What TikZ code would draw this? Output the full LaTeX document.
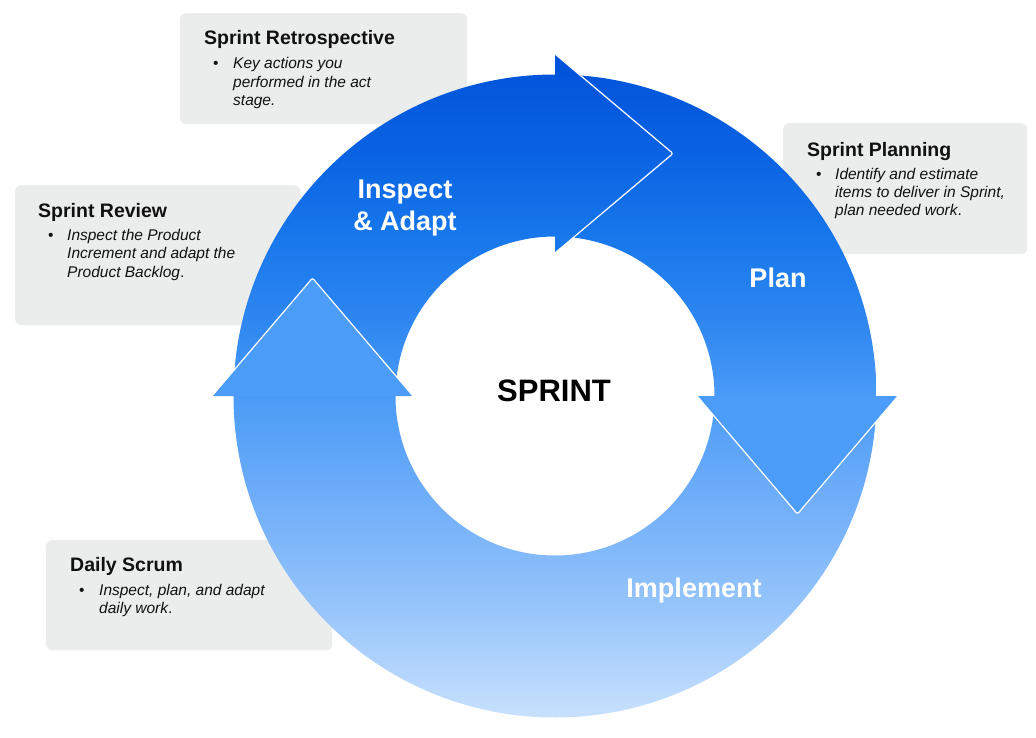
\documentclass[tikz,border=0pt]{standalone}
\usepackage{fontspec}
\setmainfont{Liberation Sans}
\definecolor{boxgray}{HTML}{EBECEC}
\definecolor{headblue}{HTML}{4C9DF9}
\definecolor{inktext}{HTML}{111111}
\definecolor{gA}{HTML}{0052D9}
\definecolor{gB}{HTML}{0A62E2}
\definecolor{gC}{HTML}{1878EC}
\definecolor{gD}{HTML}{2E86F0}
\definecolor{gE}{HTML}{4A9BF7}
\definecolor{gF}{HTML}{70AEF9}
\definecolor{gG}{HTML}{93C3FA}
\definecolor{gH}{HTML}{C9E1FD}
\pgfdeclareverticalshading{ringgrad}{100bp}{color(0bp)=(gH); color(25bp)=(gH); color(34.02bp)=(gG); color(41.54bp)=(gF); color(49.36bp)=(gE); color(55.08bp)=(gD); color(61.09bp)=(gC); color(67.86bp)=(gB); color(75bp)=(gA); color(100bp)=(gA)}
\begin{document}
\begin{tikzpicture}[x=1pt,y=1pt,
  infobox/.style={fill=boxgray, rounded corners=6pt, draw=none, inner sep=0, anchor=north west},
  boxtitle/.style={anchor=base west, inner sep=0, text=inktext, font=\fontsize{19.5}{23}\selectfont\bfseries},
  boxbody/.style={anchor=base west, inner sep=0, text=inktext, font=\fontsize{15.5}{18.5}\selectfont\itshape},
  bulletmark/.style={anchor=base west, inner sep=0, text=inktext, font=\fontsize{15.5}{18.5}\selectfont},
  ringlabel/.style={text=white, inner sep=0, font=\fontsize{27}{32}\selectfont\bfseries, align=center},
  ringshade/.style={shading=ringgrad},
  whiteedge/.style={draw=white, line width=1.2pt, rounded corners=2pt, line join=round}]
\useasboundingbox (-555,-341) rectangle (481,396);

% ---- info boxes (behind the ring) ----
\node[infobox, minimum width=287pt, minimum height=111pt] (retrobox) at (-375,383) {};
\node[infobox, minimum width=244pt, minimum height=131pt] (planbox) at (228,273) {};
\node[infobox, minimum width=285pt, minimum height=140pt] (reviewbox) at (-540,211) {};
\node[infobox, minimum width=286pt, minimum height=110pt] (dailybox) at (-509,-144) {};

% Sprint Retrospective
\node[boxtitle] (retrotitle) at (-351,351) {Sprint Retrospective};
\node[bulletmark] (retrobullet) at (-342,327) {•};
\node[boxbody] (retrotext) at (-322,327) {\parbox[t]{200pt}{\raggedright Key actions you\\performed in the act\\stage.}};

% Sprint Planning
\node[boxtitle] (plantitle) at (252,240) {Sprint Planning};
\node[bulletmark] (planbullet) at (261,217) {•};
\node[boxbody] (plantext) at (280,217) {\parbox[t]{200pt}{\raggedright Identify and estimate\\items to deliver in Sprint,\\plan needed work\textup{.}}};

% Sprint Review
\node[boxtitle] (reviewtitle) at (-517,179) {Sprint Review};
\node[bulletmark] (reviewbullet) at (-507,156) {•};
\node[boxbody] (reviewtext) at (-488,156) {\parbox[t]{200pt}{\raggedright Inspect the Product\\Increment and adapt the\\Product Backlog\textup{.}}};

% Daily Scrum
\node[boxtitle] (dailytitle) at (-485,-175) {Daily Scrum};
\node[bulletmark] (dailybullet) at (-476,-199) {•};
\node[boxbody] (dailytext) at (-456,-199) {\parbox[t]{200pt}{\raggedright Inspect, plan, and adapt\\daily work\textup{.}}};

% ---- ring ----
\begin{scope}
  \clip (0,0) circle[radius=321.5] (159.5,0) arc[start angle=0, end angle=-360, radius=159.5];
  \shade[ringshade] (-345,341) rectangle (345,-324);
\end{scope}

% arrowhead at top (Inspect & Adapt -> Plan), pointing right
\begin{scope}
  \clip[rounded corners=2pt] (0,143) -- (118,242.5) -- (0,342) -- cycle;
  \shade[ringshade] (-345,341) rectangle (345,-324);
\end{scope}
\draw[whiteedge] (0,342) -- (118,242.5) -- (0,143);

% arrowhead at right (Plan -> Implement), pointing down
\fill[headblue, rounded corners=2pt] (142,0) -- (242.5,-118) -- (343,0) -- cycle;
\draw[whiteedge] (142,0) -- (242.5,-118) -- (343,0);

% arrowhead at left (Implement -> Inspect & Adapt), pointing up
\fill[headblue, rounded corners=2pt] (-343,0) -- (-242.5,118) -- (-142,0) -- cycle;
\draw[whiteedge] (-343,0) -- (-242.5,118) -- (-142,0);

% ---- labels ----
\node[ringlabel] (inspect) at (-150,188) {Inspect\\\& Adapt};
\node[ringlabel] (plan) at (223,118) {Plan};
\node[ringlabel] (implement) at (139,-195) {Implement};
\node[inner sep=0, text=black, font=\fontsize{31}{36}\selectfont\bfseries] (sprint) at (-1,5) {SPRINT};
\end{tikzpicture}
\end{document}
